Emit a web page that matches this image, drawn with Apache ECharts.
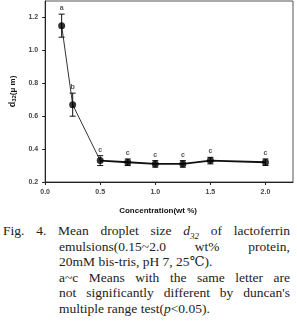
<!DOCTYPE html>
<html><head><meta charset="utf-8">
<script src="https://cdn.jsdelivr.net/npm/echarts@6/dist/echarts.min.js"></script>
<style>
html,body{margin:0;padding:0;background:#fff;width:297px;height:330px;overflow:hidden}
#chart{position:absolute;left:0;top:0;width:297px;height:220px}
#cap{position:absolute;left:0;top:223px;width:297px;font-family:"Liberation Serif","DejaVu Serif",serif;font-size:13.5px;color:#222;line-height:15.6px}
.ln{position:absolute;white-space:nowrap}
.j{text-align:justify;text-align-last:justify;white-space:normal}
</style></head><body>
<div id="chart"></div>
<div id="cap">
  <div class="ln j" style="left:3px;width:287px;top:0">Fig. 4. Mean droplet size <i>d</i><sub style="font-size:9px;font-style:italic">32</sub> of lactoferrin</div>
  <div class="ln j" style="left:59px;width:231px;top:15.6px">emulsions(0.15~2.0 wt% protein,</div>
  <div class="ln" style="left:59px;top:31.2px">20mM bis-tris, pH 7, 25℃).</div>
  <div class="ln j" style="left:59px;width:231px;top:46.8px">a~c Means with the same letter are</div>
  <div class="ln j" style="left:59px;width:231px;top:62.4px">not significantly different by duncan's</div>
  <div class="ln" style="left:59px;top:78px">multiple range test(<i>p</i>&lt;0.05).</div>
</div>
<script>
const concentration = [0.15, 0.25, 0.5, 0.75, 1.0, 1.25, 1.5, 2.0];
const d32 = [1.15, 0.67, 0.33, 0.32, 0.31, 0.31, 0.33, 0.32];
const errors = [0.07, 0.07, 0.03, 0.02, 0.02, 0.02, 0.02, 0.02];
const letters = ['a', 'b', 'c', 'c', 'c', 'c', 'c', 'c'];
const xTicks = [0, 0.5, 1.0, 1.5, 2.0];
const yTicks = [0.2, 0.4, 0.6, 0.8, 1.0, 1.2];

const pts = concentration.map((x, i) => [x, d32[i]]);
const errData = concentration.map((x, i) => [x, d32[i] - errors[i], d32[i] + errors[i], i]);

const chart = echarts.init(document.getElementById('chart'));
const labelStyle = {color: '#444', fontSize: 7, fontWeight: 'bold', fontFamily: 'Liberation Sans, Arial, sans-serif'};
chart.setOption({
  animation: false,
  grid: {left: 39, right: 4, top: 1, bottom: 36, show: true, borderColor: '#555', borderWidth: 1, backgroundColor: 'transparent'},
  xAxis: {
    type: 'value', min: 0, max: 2.25,
    name: 'Concentration(wt %)', nameLocation: 'middle', nameGap: 25,
    nameTextStyle: {color: '#111', fontSize: 8, fontWeight: 'bold', fontFamily: 'Liberation Sans, Arial, sans-serif', padding: [0, 22, 0, 0]},
    axisLine: {show: true, lineStyle: {color: '#222', width: 1}},
    axisTick: {show: true, inside: false, length: 3, customValues: xTicks, lineStyle: {color: '#222'}},
    axisLabel: Object.assign({margin: 7, customValues: xTicks, formatter: v => v.toFixed(1)}, labelStyle),
    splitLine: {show: false}
  },
  yAxis: {
    type: 'value', min: 0.2, max: 1.3,
    name: '{d|d}{s|32}{n|(μ m)}', nameLocation: 'middle', nameGap: 26,
    nameTextStyle: {
      color: '#111', fontWeight: 'bold', fontFamily: 'Liberation Sans, Arial, sans-serif',
      rich: {
        d: {fontSize: 9, fontWeight: 'bold', color: '#111'},
        s: {fontSize: 6, fontWeight: 'bold', color: '#111', verticalAlign: 'bottom', padding: [4, 0, 0, 0]},
        n: {fontSize: 8, fontWeight: 'bold', color: '#111'}
      }
    },
    axisLine: {show: true, lineStyle: {color: '#222', width: 1}},
    axisTick: {show: true, inside: false, length: 3, customValues: yTicks, lineStyle: {color: '#222'}},
    axisLabel: Object.assign({margin: 7, customValues: yTicks, formatter: v => v.toFixed(1)}, labelStyle),
    splitLine: {show: false}
  },
  series: [
    {
      type: 'custom', z: 3,
      data: errData,
      renderItem: function (params, api) {
        const x = api.value(0), lo = api.value(1), hi = api.value(2), idx = api.value(3);
        const pLo = api.coord([x, lo]), pHi = api.coord([x, hi]);
        const cw = 3;
        return {
          type: 'group',
          children: [
            {type: 'line', shape: {x1: pLo[0], y1: pLo[1], x2: pHi[0], y2: pHi[1]}, style: {stroke: '#111', lineWidth: 1}},
            {type: 'line', shape: {x1: pLo[0] - cw, y1: pLo[1], x2: pLo[0] + cw, y2: pLo[1]}, style: {stroke: '#111', lineWidth: 1}},
            {type: 'line', shape: {x1: pHi[0] - cw, y1: pHi[1], x2: pHi[0] + cw, y2: pHi[1]}, style: {stroke: '#111', lineWidth: 1}},
            {type: 'text', x: pHi[0], y: pHi[1] - 6, style: {text: letters[idx], fill: '#555', fontSize: 7, fontWeight: 'bold', fontFamily: 'Liberation Sans, Arial, sans-serif', align: 'center', verticalAlign: 'middle'}}
          ]
        };
      }
    },
    {
      type: 'line', data: pts.slice(0, 3), z: 2,
      symbol: 'none', lineStyle: {color: '#333', width: 1}
    },
    {
      type: 'line', data: pts.slice(2), z: 2,
      symbol: 'none', lineStyle: {color: '#111', width: 1.8}
    },
    {
      type: 'scatter', data: pts, z: 4,
      symbol: 'circle', symbolSize: 7, itemStyle: {color: '#000'}
    }
  ]
});
</script>
</body></html>
